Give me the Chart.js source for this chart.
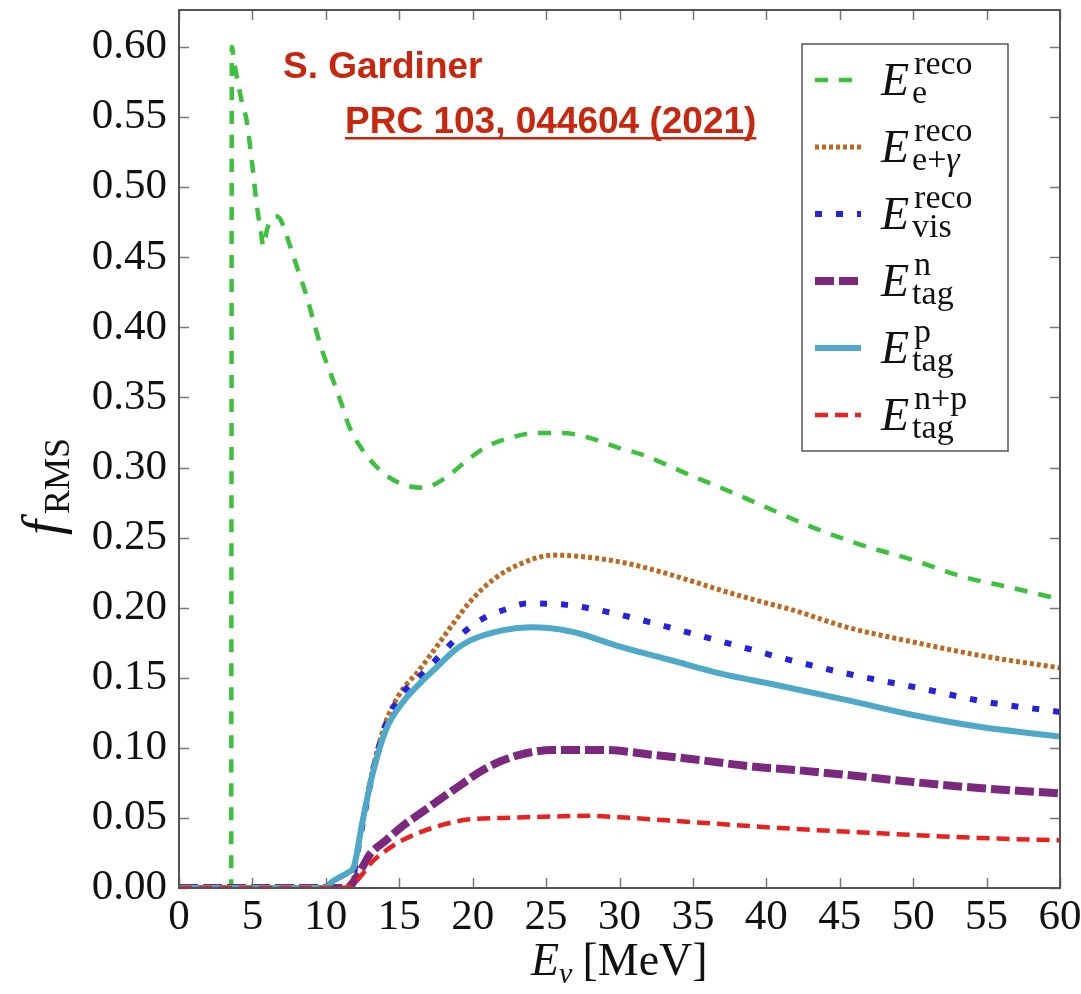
<!DOCTYPE html>
<html>
<head>
<meta charset="utf-8">
<script src="https://cdn.jsdelivr.net/npm/chart.js@4.4.1/dist/chart.umd.min.js"></script>
<style>
    body { margin: 0; background: #fff; }
    #wrap { width: 1081px; height: 994px; }
</style>
</head>
<body>
<div id="wrap"><canvas id="frms" width="1081" height="994"></canvas></div>
<script>
// ---------------------------------------------------------------------------- - - D A T A - -
const xTicks = [0, 5, 10, 15, 20, 25, 30, 35, 40, 45, 50, 55, 60];
const yTicks = [0, 0.05, 0.10, 0.15, 0.20, 0.25, 0.30, 0.35, 0.40, 0.45, 0.50, 0.55, 0.60];

// E_e^reco
const recoE_x = [0, 3.55, 3.6, 3.75, 4.0, 4.3, 4.6, 5.0, 5.3, 5.55, 5.75, 6.0, 6.3, 6.7, 7.0, 7.5, 8.1, 8.7, 9.2, 9.7, 10.4, 11.05, 11.6, 12.5, 13.7, 15.0, 16.6, 18.2, 19.6, 20.9, 22.5, 24.3, 26.1, 28.0, 29.8, 31.6, 33.2, 34.8, 36.8, 39.7, 43.1, 46.5, 50.0, 53.4, 56.8, 60];
const recoE_y = [0, 0, 0.600, 0.590, 0.575, 0.560, 0.548, 0.515, 0.487, 0.470, 0.458, 0.470, 0.477, 0.479, 0.475, 0.460, 0.441, 0.422, 0.403, 0.385, 0.365, 0.346, 0.329, 0.3125, 0.298, 0.289, 0.2855, 0.293, 0.305, 0.3146, 0.321, 0.3246, 0.3246, 0.321, 0.3146, 0.309, 0.302, 0.2946, 0.286, 0.273, 0.2575, 0.2447, 0.234, 0.222, 0.214, 0.206];

// E_e+gamma^reco
const recoEG_x = [0, 11.8, 12.0, 12.3, 12.7, 13.2, 14.0, 15.0, 16.4, 17.6, 18.7, 19.8, 21.4, 23.2, 25.5, 27.8, 30.1, 32.3, 34.6, 36.9, 39.2, 41.9, 45.5, 50.0, 54.5, 60];
const recoEG_y = [0, 0, 0.016, 0.035, 0.058, 0.085, 0.116, 0.138, 0.156, 0.173, 0.189, 0.204, 0.220, 0.231, 0.2375, 0.236, 0.2325, 0.227, 0.220, 0.2125, 0.2055, 0.198, 0.186, 0.1755, 0.166, 0.157];

// E_vis^reco
const recoVis_x = [0, 11.8, 12.0, 12.3, 12.7, 13.2, 14.0, 15.0, 16.4, 17.6, 18.7, 20.5, 22.3, 23.7, 26.4, 29.6, 32.3, 35.3, 38.3, 41.1, 45.9, 50.4, 55.0, 60];
const recoVis_y = [0, 0, 0.016, 0.034, 0.056, 0.083, 0.114, 0.136, 0.151, 0.164, 0.176, 0.191, 0.199, 0.203, 0.202, 0.196, 0.189, 0.1805, 0.172, 0.164, 0.152, 0.1427, 0.1327, 0.1256];

// E_tag^n
const tagN_x = [0, 11.4, 12.0, 12.5, 13.0, 14.1, 15.2, 16.4, 18.7, 21.0, 23.2, 25.5, 28.9, 32.3, 35.7, 39.2, 42.2, 45.5, 50.0, 54.5, 60];
const tagN_y = [0, 0, 0.006, 0.015, 0.024, 0.034, 0.044, 0.053, 0.070, 0.086, 0.095, 0.0985, 0.0985, 0.095, 0.091, 0.0865, 0.084, 0.0806, 0.0756, 0.0713, 0.0675];

// E_tag^p
const tagP_x = [0, 9.8, 10.5, 11.0, 11.5, 11.9, 12.1, 12.4, 12.8, 13.2, 14.1, 15.2, 16.4, 17.6, 18.7, 19.8, 22.1, 24.0, 26.7, 30.1, 33.5, 36.9, 40.6, 45.5, 50.0, 54.5, 60];
const tagP_y = [0, 0, 0.005, 0.008, 0.011, 0.015, 0.024, 0.042, 0.063, 0.082, 0.113, 0.132, 0.146, 0.158, 0.169, 0.1765, 0.184, 0.186, 0.183, 0.172, 0.1625, 0.153, 0.145, 0.134, 0.1234, 0.115, 0.108];

// E_tag^n+p
const tagNP_x = [0, 11.2, 12.0, 12.5, 13.0, 14.0, 15.2, 17.6, 19.8, 22.1, 25.5, 28.0, 30.0, 35.0, 40.9, 47.7, 54.5, 60];
const tagNP_y = [0, 0, 0.004, 0.010, 0.017, 0.026, 0.034, 0.044, 0.049, 0.050, 0.051, 0.0515, 0.0505, 0.047, 0.0428, 0.039, 0.0357, 0.034];

const pts = (xs, ys) => xs.map((x, i) => ({x: x, y: ys[i]}));

// ---------------------------------------------------------------------------- - - S T Y L E S - -
const series = [
    {sup: 'reco', sub: [['e', false]],                   x: recoE_x,   y: recoE_y,   color: '#3cc13c', width: 4.5, dash: [13, 11], order: 6},
    {sup: 'reco', sub: [['e+', false], ['γ', true]],     x: recoEG_x,  y: recoEG_y,  color: '#c0671c', width: 5,   dash: [4, 3],   order: 5},
    {sup: 'reco', sub: [['vis', false]],                 x: recoVis_x, y: recoVis_y, color: '#2424dd', width: 6,   dash: [7, 14],  order: 4},
    {sup: 'n',    sub: [['tag', false]],                 x: tagN_x,    y: tagN_y,    color: '#7b287e', width: 8,   dash: [19, 5],  order: 3},
    {sup: 'p',    sub: [['tag', false]],                 x: tagP_x,    y: tagP_y,    color: '#4ea8c8', width: 6,   dash: [],       order: 2},
    {sup: 'n+p',  sub: [['tag', false]],                 x: tagNP_x,   y: tagNP_y,   color: '#e8231f', width: 4.5, dash: [13, 7],  order: 1}
];

const SERIF = '"Liberation Serif", "Times New Roman", serif';
const SANS = '"Liberation Sans", Arial, sans-serif';
const RED = '#c9260e';

// ---------------------------------------------------------------------------- - - D E C O R - -
const decor = {
    id: 'decor',
    afterDatasetsDraw(chart) {
        const ctx = chart.ctx;
        const a = chart.chartArea;
        const xs = chart.scales.x, ys = chart.scales.y;
        ctx.save();

        // inward ticks, all four sides
        ctx.strokeStyle = '#777';
        ctx.lineWidth = 1.5;
        ctx.beginPath();
        xTicks.forEach(v => {
            const px = Math.round(xs.getPixelForValue(v)) + 0.5;
            ctx.moveTo(px, a.bottom); ctx.lineTo(px, a.bottom - 10);
            ctx.moveTo(px, a.top); ctx.lineTo(px, a.top + 10);
        });
        yTicks.forEach(v => {
            const py = Math.round(ys.getPixelForValue(v)) + 0.5;
            ctx.moveTo(a.left, py); ctx.lineTo(a.left + 10, py);
            ctx.moveTo(a.right, py); ctx.lineTo(a.right - 10, py);
        });
        ctx.stroke();

        // frame
        ctx.strokeStyle = '#555';
        ctx.lineWidth = 2;
        ctx.strokeRect(a.left, a.top, a.right - a.left, a.bottom - a.top);

        // author + reference
        ctx.fillStyle = RED;
        ctx.textBaseline = 'alphabetic';
        ctx.textAlign = 'left';
        ctx.font = 'bold 37px ' + SANS;
        ctx.fillText('S. Gardiner', 283, 78);
        const ref = 'PRC 103, 044604 (2021)';
        ctx.fillText(ref, 345, 133);
        const w = ctx.measureText(ref).width;
        ctx.fillRect(345, 137, w, 2.5);

        // legend
        const lx = 802, ly = 44, lw = 206, lh = 407;
        ctx.fillStyle = '#fff';
        ctx.fillRect(lx, ly, lw, lh);
        ctx.strokeStyle = '#555';
        ctx.lineWidth = 1.5;
        ctx.strokeRect(lx, ly, lw, lh);
        series.forEach((s, i) => {
            const ry = 80 + i * 67;
            ctx.save();
            ctx.strokeStyle = s.color;
            ctx.lineWidth = s.width;
            ctx.setLineDash(s.dash);
            ctx.beginPath();
            ctx.moveTo(815, ry); ctx.lineTo(861, ry);
            ctx.stroke();
            ctx.restore();

            ctx.fillStyle = '#111';
            ctx.font = 'italic 46px ' + SERIF;
            ctx.fillText('E', 881, ry + 15);
            const ex = 881 + ctx.measureText('E').width + 3;
            ctx.font = '34px ' + SERIF;
            ctx.fillText(s.sup, ex + 2, ry - 6);
            let sx = ex;
            s.sub.forEach(p => {
                ctx.font = (p[1] ? 'italic ' : '') + '34px ' + SERIF;
                ctx.fillText(p[0], sx, ry + 23);
                sx += ctx.measureText(p[0]).width;
            });
        });

        // axis titles
        ctx.fillStyle = '#111';
        ctx.font = 'italic 46px ' + SERIF;
        ctx.fillText('E', 531, 975);
        let tx = 531 + ctx.measureText('E').width;
        ctx.font = 'italic 30px ' + SERIF;
        ctx.fillText('ν', tx, 983);
        tx += ctx.measureText('ν').width + 10;
        ctx.font = '46px ' + SERIF;
        ctx.fillText('[MeV]', tx, 975);

        ctx.translate(60, 535);
        ctx.rotate(-Math.PI / 2);
        ctx.font = 'italic 54px ' + SERIF;
        ctx.fillText('f', 0, 0);
        const fw = ctx.measureText('f').width;
        ctx.font = '36px ' + SERIF;
        ctx.fillText('RMS', fw + 6, 9);
        ctx.restore();
    }
};

// ---------------------------------------------------------------------------- - - C H A R T - -
const ctx = document.getElementById('frms').getContext('2d');
const chart = new Chart(ctx, {
    type: 'line',
    data: {
        datasets: series.map(s => ({
            data: pts(s.x, s.y),
            borderColor: s.color,
            borderWidth: s.width,
            borderDash: s.dash,
            pointRadius: 0,
            fill: false,
            cubicInterpolationMode: 'monotone',
            order: s.order
        }))
    },
    options: {
        responsive: false,
        animation: false,
        layout: { padding: { left: 0, right: 21, top: 10, bottom: 0 } },
        plugins: { legend: { display: false }, tooltip: { enabled: false } },
        scales: {
            x: {
                type: 'linear',
                min: 0,
                max: 60,
                afterBuildTicks: scale => { scale.ticks = xTicks.map(v => ({value: v})); },
                afterFit: scale => {
                    scale.height = 106;
                    scale.paddingLeft = 0; scale.paddingRight = 0;
                },
                grid: { display: false, drawTicks: false },
                border: { display: false },
                ticks: {
                    autoSkip: false,
                    maxRotation: 0,
                    padding: 4,
                    color: '#111',
                    font: { family: SERIF, size: 43 },
                    callback: v => String(v)
                }
            },
            y: {
                type: 'linear',
                min: 0,
                max: 0.6264,
                afterBuildTicks: scale => { scale.ticks = yTicks.map(v => ({value: v})); },
                afterFit: scale => {
                    scale.width = 179;
                    scale.paddingTop = 0; scale.paddingBottom = 0;
                },
                grid: { display: false, drawTicks: false },
                border: { display: false },
                ticks: {
                    autoSkip: false,
                    padding: 12,
                    color: '#111',
                    font: { family: SERIF, size: 43 },
                    callback: v => v.toFixed(2)
                }
            }
        }
    },
    plugins: [decor]
});
</script>
</body>
</html>
